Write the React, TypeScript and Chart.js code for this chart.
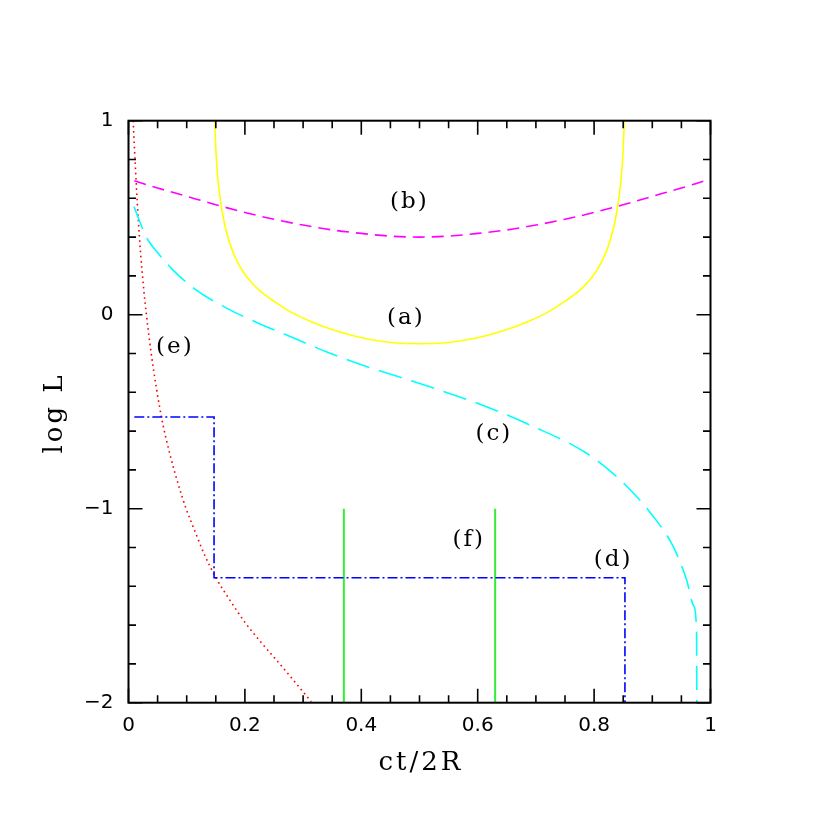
import React, { useEffect, useRef } from "react";
import { Chart, registerables } from "chart.js";

Chart.register(...registerables);

// (a) yellow solid
const aX = [0.148, 0.149, 0.151, 0.154, 0.158, 0.162, 0.168, 0.177, 0.19, 0.205, 0.225, 0.251, 0.28, 0.314, 0.355, 0.4, 0.45, 0.5,
  0.55, 0.6, 0.645, 0.686, 0.72, 0.749, 0.775, 0.795, 0.81, 0.823, 0.832, 0.838, 0.842, 0.846, 0.849, 0.851, 0.852];
const aY = [1.0, 0.93, 0.8, 0.686, 0.59, 0.514, 0.43, 0.342, 0.255, 0.188, 0.125, 0.067, 0.012, -0.036, -0.082, -0.119, -0.143, -0.15,
  -0.143, -0.119, -0.082, -0.036, 0.012, 0.067, 0.125, 0.188, 0.255, 0.342, 0.43, 0.514, 0.59, 0.686, 0.8, 0.93, 1.0];

// (b) magenta dashed
const bX = [0.01, 0.05, 0.1, 0.15, 0.2, 0.25, 0.3, 0.35, 0.4, 0.45, 0.5, 0.55, 0.6, 0.65, 0.7, 0.75, 0.8, 0.85, 0.9, 0.95, 0.99, 1.0];
const bY = [0.69, 0.653, 0.61, 0.567, 0.527, 0.492, 0.462, 0.437, 0.419, 0.405, 0.4, 0.405, 0.419, 0.437, 0.462, 0.492, 0.527, 0.567,
  0.61, 0.653, 0.69, 0.699];

// (c) cyan long dashed
const cX = [0.0095, 0.025, 0.0335, 0.05, 0.0735, 0.114, 0.171, 0.228, 0.29, 0.343, 0.4, 0.503, 0.615, 0.69, 0.787, 0.845, 0.902,
  0.936, 0.959, 0.971, 0.976, 0.9765];
const cY = [0.557, 0.437, 0.385, 0.32, 0.239, 0.132, 0.03, -0.05, -0.128, -0.195, -0.258, -0.357, -0.474, -0.569, -0.714, -0.852,
  -1.041, -1.196, -1.368, -1.5, -1.625, -2.0];

// (d) blue dash-dot step
const dX = [0.01, 0.147, 0.147, 0.853, 0.853];
const dY = [-0.527, -0.527, -1.356, -1.356, -2.0];

// (e) red dotted
const eX = [0.008, 0.0117, 0.0163, 0.021, 0.025, 0.028, 0.039, 0.0565, 0.0708, 0.085, 0.099, 0.114, 0.131, 0.151, 0.175, 0.2,
  0.228, 0.257, 0.285, 0.314];
const eY = [1.0, 0.77, 0.514, 0.308, 0.17, 0.076, -0.199, -0.526, -0.715, -0.869, -1.0, -1.115, -1.24, -1.36, -1.475, -1.585,
  -1.69, -1.79, -1.89, -1.995];

// (f) green vertical lines
const fX = [0.37, 0.63];
const fTop = -1.0;
const fBottom = -2.0;

// curve labels
const labelText = ["(a)", "(b)", "(c)", "(d)", "(e)", "(f)"];
const labelX = [0.475, 0.481, 0.626, 0.831, 0.078, 0.583];
const labelY = [-0.017, 0.58, -0.615, -1.265, -0.166, -1.164];

// axis titles
const xTitle = "ct/2R";
const yTitle = "log L";

// ticks
const xTickValues = [0, 0.2, 0.4, 0.6, 0.8, 1];
const xTickLabels = ["0", "0.2", "0.4", "0.6", "0.8", "1"];
const yTickValues = [-2, -1, 0, 1];
const yTickLabels = ["\u22122", "\u22121", "0", "1"];
const xMinorStep = 0.05;
const yMinorStep = 0.2;

const pts = (xs: number[], ys: number[]) => xs.map((x, i) => ({ x, y: ys[i] }));

const framePlugin = {
  id: "frameTicks",
  afterDatasetsDraw(chart: any) {
    const { ctx, chartArea, scales } = chart;
    const xs = scales.x;
    const ys = scales.y;
    const { left, right, top, bottom } = chartArea;
    ctx.save();
    // curve labels
    ctx.fillStyle = "#000";
    ctx.font = "23px 'DejaVu Serif'";
    ctx.letterSpacing = "2px";
    ctx.textAlign = "center";
    ctx.textBaseline = "middle";
    labelText.forEach((t, i) => {
      ctx.fillText(t, xs.getPixelForValue(labelX[i]) + 1, ys.getPixelForValue(labelY[i]));
    });
    // axis titles
    ctx.font = "26px 'DejaVu Serif'";
    ctx.letterSpacing = "3px";
    ctx.textBaseline = "alphabetic";
    ctx.fillText(xTitle, (left + right) / 2 + 1.5, 770);
    ctx.save();
    ctx.translate(62, 414.5);
    ctx.rotate(-Math.PI / 2);
    ctx.fillText(yTitle, 1.5, 0);
    ctx.restore();
    ctx.letterSpacing = "0px";
    // frame
    ctx.strokeStyle = "#000";
    ctx.lineWidth = 2;
    ctx.strokeRect(left, top, right - left, bottom - top);
    ctx.lineWidth = 1.6;
    ctx.beginPath();
    const major = 14;
    const minor = 7.5;
    for (let k = 0; k <= Math.round(1 / xMinorStep); k++) {
      const v = k * xMinorStep;
      const isMajor = xTickValues.some((t) => Math.abs(t - v) < 1e-6);
      const len = isMajor ? major : minor;
      const p = xs.getPixelForValue(v);
      ctx.moveTo(p, bottom);
      ctx.lineTo(p, bottom - len);
      ctx.moveTo(p, top);
      ctx.lineTo(p, top + len);
    }
    for (let k = 0; k <= Math.round(3 / yMinorStep); k++) {
      const v = -2 + k * yMinorStep;
      const isMajor = yTickValues.some((t) => Math.abs(t - v) < 1e-6);
      const len = isMajor ? major : minor;
      const p = ys.getPixelForValue(v);
      ctx.moveTo(left, p);
      ctx.lineTo(left + len, p);
      ctx.moveTo(right, p);
      ctx.lineTo(right - len, p);
    }
    ctx.stroke();
    ctx.restore();
  },
};

export default function App() {
  const ref = useRef<HTMLCanvasElement | null>(null);
  useEffect(() => {
    if (!ref.current) return;
    const common = { pointRadius: 0, fill: false, borderWidth: 1.6 };
    const datasets: any[] = [
      { ...common, data: pts(aX, aY), borderColor: "#ffff00", cubicInterpolationMode: "monotone" },
      { ...common, data: pts(bX, bY), borderColor: "#ff00ff", borderDash: [12, 7], cubicInterpolationMode: "monotone" },
      { ...common, data: pts(cX, cY), borderColor: "#00ffff", borderDash: [24, 10], cubicInterpolationMode: "monotone" },
      { ...common, data: pts(dX, dY), borderColor: "#0000ff", borderDash: [10, 3, 2, 3], tension: 0 },
      { ...common, data: pts(eX, eY), borderColor: "#ff0000", borderDash: [1.6, 3.6], cubicInterpolationMode: "monotone" },
      ...fX.map((x) => ({ ...common, borderWidth: 2, data: [{ x, y: fTop }, { x, y: fBottom }], borderColor: "#33ee33", tension: 0 })),
    ];
    const chart = new Chart(ref.current, {
      type: "line",
      data: { datasets },
      plugins: [framePlugin],
      options: {
        animation: false,
        responsive: false,
        events: [],
        layout: { padding: { left: 0, top: 120.7, right: 119.5, bottom: 0 } },
        plugins: { legend: { display: false }, tooltip: { enabled: false }, title: { display: false } },
        scales: {
          x: {
            type: "linear",
            min: 0,
            max: 1,
            grid: { display: false, drawTicks: false },
            border: { display: false },
            afterFit: (s: any) => { s.height = 127.3; },
            afterBuildTicks: (s: any) => { s.ticks = xTickValues.map((value) => ({ value })); },
            ticks: {
              padding: 11,
              color: "#000",
              maxRotation: 0,
              autoSkip: false,
              font: { family: "'DejaVu Sans'", size: 20 },
              callback: (v: any) => { const i = xTickValues.findIndex((t) => Math.abs(t - v) < 1e-6); return i >= 0 ? xTickLabels[i] : ""; },
            },
            title: { display: false },
          },
          y: {
            type: "linear",
            min: -2,
            max: 1,
            grid: { display: false, drawTicks: false },
            border: { display: false },
            afterFit: (s: any) => { s.width = 128.5; },
            afterBuildTicks: (s: any) => { s.ticks = yTickValues.map((value) => ({ value })); },
            ticks: {
              padding: 15,
              color: "#000",
              autoSkip: false,
              font: { family: "'DejaVu Sans'", size: 20 },
              callback: (v: any) => { const i = yTickValues.findIndex((t) => Math.abs(t - v) < 1e-6); return i >= 0 ? yTickLabels[i] : ""; },
            },
            title: { display: false },
          },
        },
      } as any,
    });
    return () => chart.destroy();
  }, []);
  return (
    <div style={{ position: "absolute", left: 0, top: 0, width: 830, height: 830, background: "#fff" }}>
      <canvas ref={ref} width={830} height={830} style={{ width: 830, height: 830, display: "block" }} />
    </div>
  );
}
